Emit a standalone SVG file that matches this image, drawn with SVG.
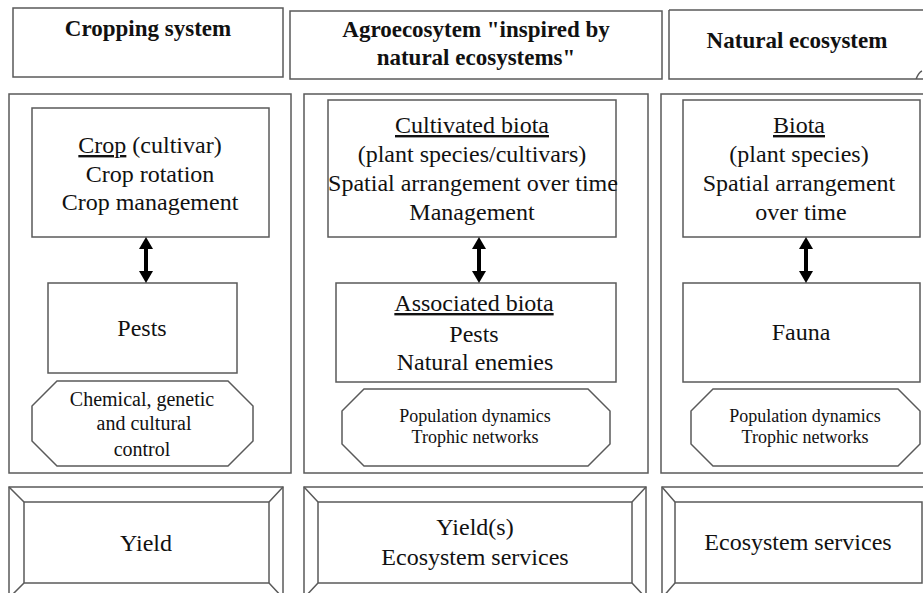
<svg xmlns="http://www.w3.org/2000/svg" width="923" height="593" viewBox="0 0 923 593">
<defs>
<style>
.b{fill:#fff;stroke:#5a5a5a;stroke-width:1.5}
.l{fill:none;stroke:#5a5a5a;stroke-width:1.5}
text{font-family:"Liberation Serif","Times New Roman",serif;fill:#111;text-anchor:middle}
.h{font-size:23px;font-weight:bold}
.t{font-size:24px}
.m{font-size:20px}
.s{font-size:18px}
.u{text-decoration:underline}
.arr{stroke:#000;stroke-width:4;fill:none}
</style>
<marker id="ah" viewBox="0 0 12 14" refX="0" refY="7" markerWidth="12" markerHeight="14" markerUnits="userSpaceOnUse" orient="auto-start-reverse">
<path d="M0,0 L12,7 L0,14 z" fill="#000"/>
</marker>
</defs>
<rect width="923" height="593" fill="#fff"/>

<g id="header-cropping">
<rect class="b" x="13" y="8" width="270" height="69"/>
<text class="h" x="148" y="36">Cropping system</text>
</g>
<g id="header-agro">
<rect class="b" x="290" y="11" width="372" height="68"/>
<text class="h" x="476" y="37">Agroecosytem "inspired by</text>
<text class="h" x="476" y="65">natural ecosystems"</text>
</g>
<g id="header-natural">
<path class="b" d="M669,10 H935 V79 H916 Q919,72 922,71 M669,10 V79 H916"/>
<text class="h" x="797" y="48">Natural ecosystem</text>
</g>

<g id="panel-cropping"><rect class="b" x="9" y="94" width="282" height="379"/></g>
<g id="panel-agro"><rect class="b" x="304" y="94" width="344" height="379"/></g>
<g id="panel-natural"><rect class="b" x="661" y="94" width="280" height="379"/></g>

<g id="crop">
<rect class="b" x="32" y="108" width="237" height="129"/>
<text class="t" x="150" y="153"><tspan class="u">Crop</tspan> (cultivar)</text>
<text class="t" x="150" y="182">Crop rotation</text>
<text class="t" x="150" y="210">Crop management</text>
</g>
<g id="pests">
<rect class="b" x="48" y="283" width="189" height="90"/>
<text class="t" x="142" y="336">Pests</text>
</g>
<g id="control">
<polygon class="b" points="57,381 228,381 253,406 253,441 228,466 57,466 32,441 32,406"/>
<text class="m" x="142" y="406">Chemical,  genetic</text>
<text class="m" x="144" y="430">and cultural</text>
<text class="m" x="142" y="456">control</text>
</g>

<g id="cultivated">
<rect class="b" x="328" y="100" width="288" height="137"/>
<text class="t" x="472" y="133"><tspan class="u">Cultivated biota</tspan></text>
<text class="t" x="472" y="162">(plant species/cultivars)</text>
<text class="t" x="473" y="191">Spatial arrangement over time</text>
<text class="t" x="472" y="220">Management</text>
</g>
<g id="associated">
<rect class="b" x="336" y="283" width="280" height="99"/>
<text class="t" x="474" y="311"><tspan class="u">Associated biota</tspan></text>
<text class="t" x="474" y="342">Pests</text>
<text class="t" x="475" y="370">Natural enemies</text>
</g>
<g id="dynamics-agro">
<polygon class="b" points="364,389 588,389 610,411 610,444 588,466 364,466 342,444 342,411"/>
<text class="s" x="475" y="422">Population dynamics</text>
<text class="s" x="475" y="443">Trophic networks</text>
</g>

<g id="biota">
<rect class="b" x="683" y="100" width="237" height="137"/>
<text class="t" x="799" y="133"><tspan class="u">Biota</tspan></text>
<text class="t" x="799" y="162">(plant species)</text>
<text class="t" x="799" y="191">Spatial arrangement</text>
<text class="t" x="801" y="220">over time</text>
</g>
<g id="fauna">
<rect class="b" x="683" y="283" width="237" height="99"/>
<text class="t" x="801" y="340">Fauna</text>
</g>
<g id="dynamics-natural">
<polygon class="b" points="713,389 898,389 920,411 920,444 898,466 713,466 691,444 691,411"/>
<text class="s" x="805" y="422">Population dynamics</text>
<text class="s" x="805" y="443">Trophic networks</text>
</g>

<g id="yield">
<rect class="b" x="9" y="487" width="274" height="112"/>
<rect class="b" x="24" y="502" width="245" height="81"/>
<path class="l" d="M9,487 L24,502 M283,487 L269,502 M24,583 L9,598 M269,583 L283,598"/>
<text class="t" x="146" y="551">Yield</text>
</g>
<g id="yields-services">
<rect class="b" x="304" y="487" width="342" height="112"/>
<rect class="b" x="318" y="502" width="314" height="81"/>
<path class="l" d="M304,487 L318,502 M646,487 L632,502 M318,583 L304,598 M632,583 L646,598"/>
<text class="t" x="475" y="535">Yield(s)</text>
<text class="t" x="475" y="565">Ecosystem services</text>
</g>
<g id="ecosystem-services">
<rect class="b" x="662" y="487" width="274" height="112"/>
<rect class="b" x="675" y="502" width="247" height="81"/>
<path class="l" d="M662,487 L675,502 M675,583 L662,598"/>
<text class="t" x="798" y="550">Ecosystem services</text>
</g>

<g id="connectors">
<line class="arr" x1="146" y1="249" x2="146" y2="271" marker-start="url(#ah)" marker-end="url(#ah)"/>
<line class="arr" x1="479" y1="249" x2="479" y2="271" marker-start="url(#ah)" marker-end="url(#ah)"/>
<line class="arr" x1="806" y1="249" x2="806" y2="271" marker-start="url(#ah)" marker-end="url(#ah)"/>
</g>
</svg>
